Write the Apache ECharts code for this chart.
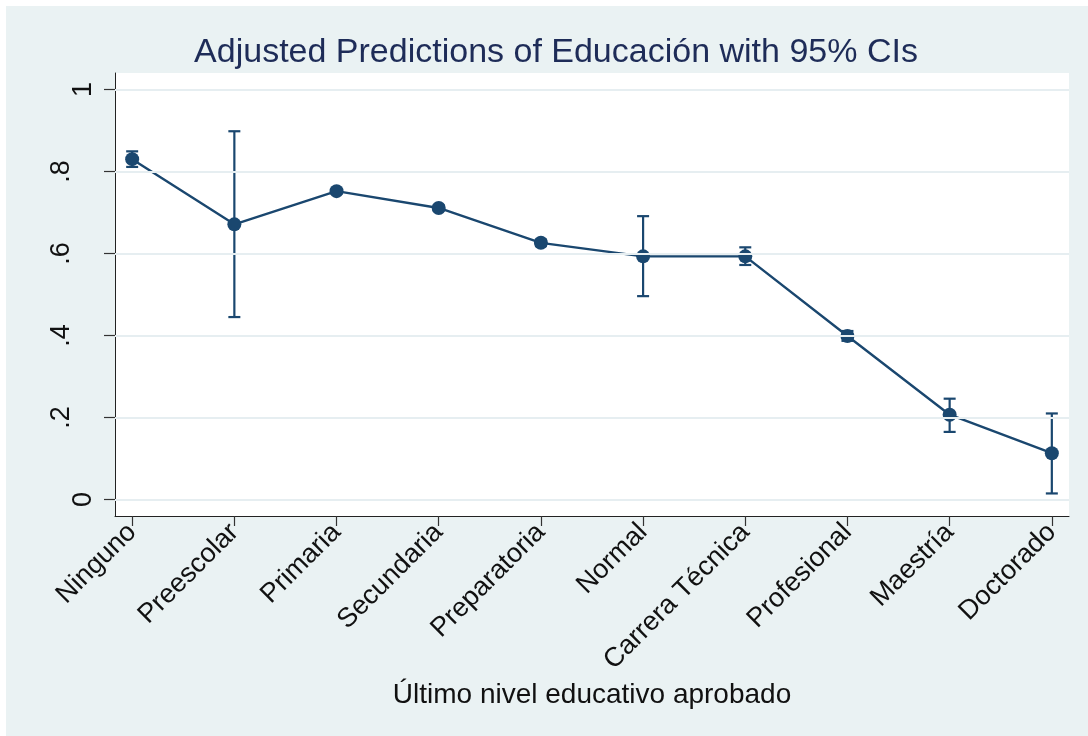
<!DOCTYPE html>
<html>
<head>
<meta charset="utf-8">
<title>Adjusted Predictions of Educación</title>
<script src="https://cdn.jsdelivr.net/npm/echarts@6/dist/echarts.min.js"></script>
<style>
  html, body { margin: 0; padding: 0; background: #ffffff; }
  #chart { width: 1088px; height: 736px; }
</style>
</head>
<body>
<div id="chart"></div>
<script>
// Education levels (x categories) and adjusted predicted probabilities with 95% CIs
const categories = ['Ninguno', 'Preescolar', 'Primaria', 'Secundaria', 'Preparatoria',
  'Normal', 'Carrera Técnica', 'Profesional', 'Maestría', 'Doctorado'];
const margins = [0.830, 0.671, 0.752, 0.711, 0.626, 0.593, 0.593, 0.399, 0.207, 0.113];
const ciLower = [0.811, 0.445, 0.746, 0.705, 0.618, 0.496, 0.572, 0.387, 0.165, 0.015];
const ciUpper = [0.849, 0.898, 0.758, 0.717, 0.634, 0.691, 0.615, 0.411, 0.246, 0.210];
const yTicks = [0, 0.2, 0.4, 0.6, 0.8, 1];
const yTickLabels = ['0', '.2', '.4', '.6', '.8', '1'];
const xTicks = categories.map((c, i) => i + 1);

const NAVY = '#1a476f';
const FONT = "'Liberation Sans', Arial, Helvetica, sans-serif";

const chart = echarts.init(document.getElementById('chart'), null, { renderer: 'canvas' });

const option = {
  backgroundColor: '#ffffff',
  animation: false,
  graphic: [
    {
      type: 'rect', left: 6, top: 6, z: -10,
      shape: { width: 1082, height: 730 },
      style: { fill: '#eaf2f3' }
    },
    {
      type: 'text', x: 556, y: 53, z: 10,
      style: {
        text: 'Adjusted Predictions of Educación with 95% CIs',
        font: '34px ' + FONT,
        fill: '#1e2c58',
        textAlign: 'center',
        textVerticalAlign: 'middle'
      }
    }
  ],
  grid: {
    left: 115, right: 19, top: 73, bottom: 220,
    show: true, backgroundColor: '#ffffff', borderWidth: 0
  },
  xAxis: {
    type: 'value',
    min: 0.832, max: 10.168,
    name: 'Último nivel educativo aprobado',
    nameLocation: 'middle',
    nameGap: 161,
    nameTextStyle: { fontFamily: FONT, fontSize: 28, color: '#111111' },
    axisLine: { show: true, onZero: false, lineStyle: { color: '#222222', width: 1 } },
    axisTick: { show: true, length: 10, customValues: xTicks, lineStyle: { color: '#333333', width: 1.2 } },
    axisLabel: {
      show: true, rotate: 45, margin: 12,
      customValues: xTicks,
      fontFamily: FONT, fontSize: 27, color: '#111111',
      formatter: (v) => categories[Math.round(v) - 1] || ''
    },
    splitLine: { show: false }
  },
  yAxis: {
    type: 'value',
    min: -0.04, max: 1.04,
    axisLine: { show: true, onZero: false, lineStyle: { color: '#222222', width: 1 } },
    axisTick: { show: true, length: 11, customValues: yTicks, lineStyle: { color: '#333333', width: 1.2 } },
    axisLabel: {
      show: true, rotate: 90, margin: 18,
      customValues: yTicks,
      fontFamily: FONT, fontSize: 27, color: '#111111',
      formatter: (v) => {
        const i = yTicks.findIndex(t => Math.abs(t - v) < 1e-9);
        const s = i >= 0 ? yTickLabels[i] : '';
        return s.length > 1 ? '{w|' + s + '}' : '{n|' + s + '}';
      },
      rich: {
        n: { fontFamily: FONT, fontSize: 27, color: '#111111' },
        w: { fontFamily: FONT, fontSize: 27, color: '#111111', padding: [0, 0, 22, 0] }
      }
    },
    splitLine: { show: false }
  },
  series: [
    {
      // horizontal grid lines at the y ticks
      type: 'line',
      data: [],
      z: 1,
      silent: true,
      markLine: {
        silent: true,
        symbol: ['none', 'none'],
        label: { show: false },
        lineStyle: { color: '#e6eef1', width: 2, type: 'solid' },
        data: yTicks.map(t => ({ yAxis: t }))
      }
    },
    {
      // 95% confidence intervals with caps
      type: 'custom',
      z: 3,
      silent: true,
      data: categories.map((c, i) => [i + 1, ciLower[i], ciUpper[i]]),
      encode: { x: 0, y: [1, 2] },
      renderItem: (params, api) => {
        const x = api.value(0);
        const pLo = api.coord([x, api.value(1)]);
        const pHi = api.coord([x, api.value(2)]);
        const hw = 6;
        const style = { stroke: NAVY, lineWidth: 2.2, fill: null };
        return {
          type: 'group',
          children: [
            { type: 'line', shape: { x1: pLo[0], y1: pLo[1], x2: pHi[0], y2: pHi[1] }, style },
            { type: 'line', shape: { x1: pLo[0] - hw, y1: pLo[1], x2: pLo[0] + hw, y2: pLo[1] }, style },
            { type: 'line', shape: { x1: pHi[0] - hw, y1: pHi[1], x2: pHi[0] + hw, y2: pHi[1] }, style }
          ]
        };
      }
    },
    {
      // adjusted predictions
      type: 'line',
      z: 4,
      data: margins.map((v, i) => [i + 1, v]),
      symbol: 'circle',
      symbolSize: 14,
      showSymbol: true,
      lineStyle: { color: NAVY, width: 2.4 },
      itemStyle: { color: NAVY },
      silent: true
    }
  ]
};

chart.setOption(option);
</script>
</body>
</html>
